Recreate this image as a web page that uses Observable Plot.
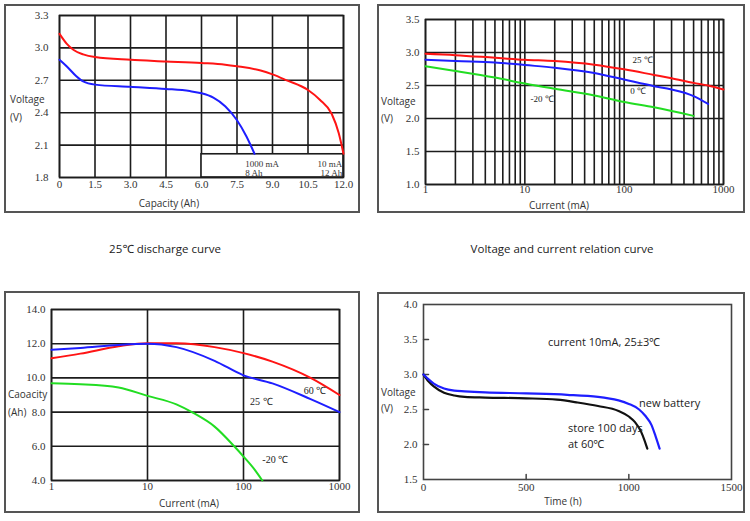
<!DOCTYPE html>
<html><head><meta charset="utf-8">
<script src="https://cdn.jsdelivr.net/npm/d3@7"></script>
<script src="https://cdn.jsdelivr.net/npm/@observablehq/plot@0.6"></script>
<style>
body{margin:0;background:#fff;}
#root{position:relative;width:750px;height:521px;overflow:hidden;font-family:"Open Sans","Noto Sans",sans-serif;color:#222;}
.frame{position:absolute;border:2px solid #555;box-sizing:border-box;}
.panel{position:absolute;}
.panel svg{overflow:visible;background:transparent;}
.lbl{position:absolute;font-size:10px;line-height:1;white-space:nowrap;color:#333;transform:translateY(-50%);}
.ctr{transform:translate(-50%,-50%);}
.title{position:absolute;font-size:11.5px;line-height:1;white-space:nowrap;color:#222;transform:translate(-50%,-50%);}
.ann{position:absolute;font-size:11px;line-height:1;white-space:nowrap;color:#222;transform:translateY(-50%);}
</style>
</head><body>
<div id="root"></div>
<script>
// ---------- Panel 1: 25℃ discharge curve ----------
const p1Cap10mA   = [0, 0.3, 0.6, 1.0, 1.5, 3.0, 4.5, 6.0, 7.0, 7.5, 8.5, 9.0, 9.6, 10.5, 11.0, 11.5, 11.8, 12.0];
const p1Volt10mA  = [3.13, 3.04, 2.98, 2.94, 2.915, 2.89, 2.875, 2.86, 2.845, 2.83, 2.79, 2.755, 2.70, 2.61, 2.52, 2.39, 2.21, 2.02];
const p1Cap1000mA = [0, 0.3, 0.7, 1.0, 1.5, 3.0, 4.5, 5.5, 6.0, 6.5, 7.0, 7.5, 7.9, 8.24];
const p1Volt1000mA= [2.89, 2.83, 2.74, 2.69, 2.66, 2.64, 2.62, 2.60, 2.58, 2.54, 2.46, 2.33, 2.18, 2.02];
const p1XTicks = [0, 1.5, 3.0, 4.5, 6.0, 7.5, 9.0, 10.5, 12.0];
const p1YTicks = [1.8, 2.1, 2.4, 2.7, 3.0, 3.3];
const p1LegendBox = [{x1: 6.0, x2: 12.0, y1: 1.8, y2: 2.015}];
const p1LegendLeft  = [{x: 7.85, y: 1.927, text: "1000 mA"}, {x: 7.85, y: 1.844, text: "8 Ah"}];
const p1LegendRight = [{x: 11.95, y: 1.927, text: "10 mA"}, {x: 11.95, y: 1.844, text: "12 Ah"}];

// ---------- Panel 2: Voltage and current relation ----------
const p2Current = [1, 2, 5, 10, 20, 50, 100, 200, 300, 500, 700, 1000];
const p2Volt25  = [2.98, 2.96, 2.92, 2.89, 2.87, 2.815, 2.745, 2.66, 2.61, 2.54, 2.50, 2.44];
const p2Current0 = [1, 2, 5, 10, 20, 50, 100, 200, 300, 500, 700];
const p2Volt0    = [2.89, 2.87, 2.85, 2.81, 2.77, 2.69, 2.59, 2.49, 2.44, 2.34, 2.22];
const p2CurrentM20 = [1, 2, 5, 10, 20, 50, 100, 200, 500];
const p2VoltM20    = [2.79, 2.72, 2.62, 2.53, 2.45, 2.35, 2.25, 2.17, 2.04];
const p2GridX = [1,2,3,4,5,6,7,8,9,10,20,30,40,50,60,70,80,90,100,200,300,400,500,600,700,800,900,1000];
const p2XTicks = [1, 10, 100, 1000];
const p2YTicks = [1.0, 1.5, 2.0, 2.5, 3.0, 3.5];
const p2Labels = [
  {x: 121, y: 2.89, text: "25 ℃"},
  {x: 115, y: 2.41, text: "0 ℃"},
  {x: 11.4, y: 2.29, text: "-20 ℃"}
];

// ---------- Panel 3: Capacity vs current ----------
const p3Current = [1, 2, 5, 10, 20, 50, 100, 200, 500, 1000];
const p3Cap60   = [11.15, 11.42, 11.85, 12.03, 12.02, 11.8, 11.45, 10.95, 10.0, 9.0];
const p3Cap25   = [11.65, 11.75, 11.93, 12.0, 11.8, 11.0, 10.15, 9.68, 8.76, 8.0];
const p3CurrentM20 = [1, 2, 5, 10, 20, 30, 50, 80, 100, 130, 157];
const p3CapM20     = [9.68, 9.63, 9.44, 8.95, 8.45, 7.95, 7.15, 6.0, 5.4, 4.65, 4.0];
const p3GridX = [1, 10, 100, 1000];
const p3YTicks = [4, 6, 8, 10, 12, 14];
const p3Labels = [
  {x: 425, y: 9.22, text: "60 ℃"},
  {x: 117, y: 8.58, text: "25 ℃"},
  {x: 157, y: 5.21, text: "-20 ℃"}
];

// ---------- Panel 4: Storage ----------
const p4TimeNew = [0, 25, 50, 100, 150, 200, 300, 500, 700, 850, 900, 950, 1000, 1050, 1080, 1110, 1130, 1150];
const p4VoltNew = [3.0, 2.93, 2.87, 2.80, 2.77, 2.76, 2.745, 2.73, 2.71, 2.68, 2.66, 2.63, 2.58, 2.50, 2.41, 2.28, 2.12, 1.94];
const p4TimeStore = [0, 25, 50, 100, 150, 200, 300, 500, 650, 750, 850, 950, 1000, 1030, 1060, 1075, 1090];
const p4VoltStore = [3.0, 2.9, 2.83, 2.74, 2.70, 2.68, 2.67, 2.66, 2.64, 2.60, 2.55, 2.48, 2.40, 2.32, 2.18, 2.07, 1.94];
const p4XTicks = [0, 500, 1000, 1500];
const p4YTicks = [1.5, 2.0, 2.5, 3.0, 3.5, 4.0];
const p4InnerXTicks = [500, 1000];
const p4InnerYTicks = [2.0, 2.5, 3.0, 3.5];

// ---------- helpers ----------
const zip = (xs, ys) => xs.map((x, i) => ({x, y: ys[i]}));
const GRID = "#1c1c1c";
const RED = "#ff1414", BLUE = "#1e1eff", GREEN = "#22dd22", BLACK = "#111";
const tickFont = {fontFamily: "'Liberation Serif','Times New Roman',serif", fontSize: "11px", color: "#333", background: "transparent", overflow: "visible"};
const root = document.getElementById("root");
function place(el, left, top) {
  const d = document.createElement("div");
  d.className = "panel"; d.style.left = left + "px"; d.style.top = top + "px";
  d.appendChild(el); root.appendChild(d);
}
function frame(l, t, r, b) {
  const d = document.createElement("div");
  d.className = "frame";
  Object.assign(d.style, {left: l + "px", top: t + "px", width: (r - l) + "px", height: (b - t) + "px"});
  root.appendChild(d);
}
function label(text, x, y, cls) {
  const d = document.createElement("div");
  d.className = cls; d.textContent = text;
  d.style.left = x + "px"; d.style.top = y + "px";
  root.appendChild(d);
}
const tickShape = {draw(ctx, l) { ctx.moveTo(0, 0); ctx.lineTo(0, -l); }};

frame(4, 4, 360, 213);
frame(377, 4, 745, 213);
frame(4, 291, 360, 513);
frame(377, 292, 745, 513);

// Panel 1
place(Plot.plot({
  width: 375, height: 220, marginLeft: 59, marginRight: 32, marginTop: 15, marginBottom: 43,
  style: tickFont,
  x: {domain: [0, 12]}, y: {domain: [1.8, 3.3]},
  marks: [
    Plot.gridX(p1XTicks, {stroke: GRID, strokeOpacity: 1, strokeWidth: 1.6}),
    Plot.gridY(p1YTicks, {stroke: GRID, strokeOpacity: 1, strokeWidth: 1.6}),
    Plot.rect(p1LegendBox, {x1: "x1", x2: "x2", y1: "y1", y2: "y2", fill: "white", stroke: GRID, strokeWidth: 1.6}),
    Plot.frame({stroke: GRID, strokeWidth: 1.6}),
    Plot.text(p1LegendLeft, {x: "x", y: "y", text: "text", textAnchor: "start", fontSize: 9, fill: "#333"}),
    Plot.text(p1LegendRight, {x: "x", y: "y", text: "text", textAnchor: "end", fontSize: 9, fill: "#333"}),
    Plot.line(zip(p1Cap10mA, p1Volt10mA), {x: "x", y: "y", stroke: RED, strokeWidth: 2, curve: "monotone-x"}),
    Plot.line(zip(p1Cap1000mA, p1Volt1000mA), {x: "x", y: "y", stroke: BLUE, strokeWidth: 2, curve: "monotone-x"}),
    Plot.axisX(p1XTicks, {tickSize: 0, tickPadding: 3, label: null, tickFormat: d => d === 0 ? "0" : d.toFixed(1)}),
    Plot.axisY(p1YTicks, {tickSize: 0, tickPadding: 11, label: null, tickFormat: d => d.toFixed(1)})
  ]
}), 0, 0);

// Panel 2
place(Plot.plot({
  width: 375, height: 220, marginLeft: 50, marginRight: 27, marginTop: 19, marginBottom: 36,
  style: tickFont,
  x: {type: "log", domain: [1, 1000]}, y: {domain: [1.0, 3.5]},
  marks: [
    Plot.gridX(p2GridX, {stroke: GRID, strokeOpacity: 1, strokeWidth: 1.6}),
    Plot.gridY(p2YTicks, {stroke: GRID, strokeOpacity: 1, strokeWidth: 1.6}),
    Plot.frame({stroke: GRID, strokeWidth: 1.6}),
    Plot.line(zip(p2Current, p2Volt25), {x: "x", y: "y", stroke: RED, strokeWidth: 2, curve: "monotone-x"}),
    Plot.line(zip(p2Current0, p2Volt0), {x: "x", y: "y", stroke: BLUE, strokeWidth: 2, curve: "monotone-x"}),
    Plot.line(zip(p2CurrentM20, p2VoltM20), {x: "x", y: "y", stroke: GREEN, strokeWidth: 2, curve: "monotone-x"}),
    Plot.text(p2Labels, {x: "x", y: "y", text: "text", textAnchor: "start", fontSize: 9, fill: "#222"}),
    Plot.axisX(p2XTicks, {tickSize: 0, tickPadding: 1, label: null, tickFormat: d => String(d)}),
    Plot.axisY(p2YTicks, {tickSize: 0, tickPadding: 6, label: null, tickFormat: d => d.toFixed(1)})
  ]
}), 375, 0);

// Panel 3
place(Plot.plot({
  width: 375, height: 236, marginLeft: 51, marginRight: 36, marginTop: 24, marginBottom: 41,
  style: tickFont,
  x: {type: "log", domain: [1, 1000]}, y: {domain: [4, 14]},
  marks: [
    Plot.gridX(p3GridX, {stroke: GRID, strokeOpacity: 1, strokeWidth: 1.6}),
    Plot.gridY(p3YTicks, {stroke: GRID, strokeOpacity: 1, strokeWidth: 1.6}),
    Plot.frame({stroke: GRID, strokeWidth: 1.6}),
    Plot.line(zip(p3Current, p3Cap60), {x: "x", y: "y", stroke: RED, strokeWidth: 2, curve: "monotone-x"}),
    Plot.line(zip(p3Current, p3Cap25), {x: "x", y: "y", stroke: BLUE, strokeWidth: 2, curve: "monotone-x"}),
    Plot.line(zip(p3CurrentM20, p3CapM20), {x: "x", y: "y", stroke: GREEN, strokeWidth: 2, curve: "monotone-x"}),
    Plot.text(p3Labels, {x: "x", y: "y", text: "text", textAnchor: "start", fontSize: 10, fill: "#222"}),
    Plot.axisX(p3GridX, {tickSize: 0, tickPadding: 2, label: null, tickFormat: d => String(d)}),
    Plot.axisY(p3YTicks, {tickSize: 0, tickPadding: 6, label: null, tickFormat: d => d.toFixed(1)})
  ]
}), 0, 285);

// Panel 4
place(Plot.plot({
  width: 375, height: 236, marginLeft: 48, marginRight: 19, marginTop: 19, marginBottom: 42,
  style: tickFont,
  x: {domain: [0, 1500]}, y: {domain: [1.5, 4.0]},
  marks: [
    Plot.frame({stroke: "#444", strokeWidth: 1.6}),
    Plot.vector(p4InnerXTicks, {x: d => d, frameAnchor: "bottom", length: 5, anchor: "start", rotate: 0, shape: tickShape, stroke: "#444", strokeWidth: 1.5}),
    Plot.vector(p4InnerYTicks, {y: d => d, frameAnchor: "left", length: 5, anchor: "start", rotate: 90, shape: tickShape, stroke: "#444", strokeWidth: 1.5}),
    Plot.line(zip(p4TimeStore, p4VoltStore), {x: "x", y: "y", stroke: BLACK, strokeWidth: 2.2, curve: "monotone-x"}),
    Plot.line(zip(p4TimeNew, p4VoltNew), {x: "x", y: "y", stroke: BLUE, strokeWidth: 2.2, curve: "monotone-x"}),
    Plot.axisX(p4XTicks, {tickSize: 0, tickPadding: 4, label: null, tickFormat: d => String(d)}),
    Plot.axisY(p4YTicks, {tickSize: 0, tickPadding: 6, label: null, tickFormat: d => d.toFixed(1)})
  ]
}), 375, 285);

// Axis labels and titles (HTML text)
label("Voltage", 10, 99, "lbl");
label("(V)", 10, 117, "lbl");
label("Capacity (Ah)", 169, 203, "lbl ctr");
label("Voltage", 381, 101, "lbl");
label("(V)", 381, 118, "lbl");
label("Current (mA)", 559, 205, "lbl ctr");
label("Caoacity", 8, 394, "lbl");
label("(Ah)", 8, 412, "lbl");
label("Current (mA)", 189, 503, "lbl ctr");
label("Voltage", 381, 392, "lbl");
label("(V)", 381, 408, "lbl");
label("Time (h)", 563, 501, "lbl ctr");
label("25℃ discharge curve", 165, 249, "title");
label("Voltage and current relation curve", 562, 249, "title");
label("current 10mA, 25±3℃", 548, 341, "ann");
label("new battery", 639, 402, "ann");
label("store 100 days", 568, 427, "ann");
label("at 60℃", 568, 443, "ann");
</script>
</body></html>
